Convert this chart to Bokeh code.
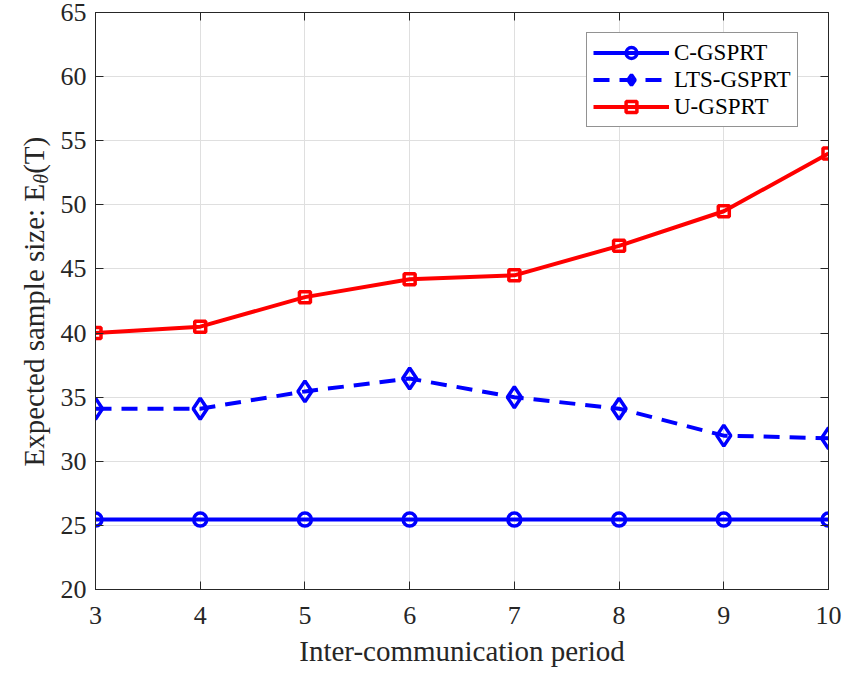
import math
from bokeh.plotting import figure
from bokeh.layouts import row
from bokeh.models import Range1d, FixedTicker, LinearAxis, Legend, LegendItem
from bokeh.core.properties import value
from bokeh.embed import file_html
from bokeh.resources import INLINE

# Inter-communication period
periods = [3, 4, 5, 6, 7, 8, 9, 10]
# Expected sample size for each test
c_gsprt = [25.45, 25.45, 25.45, 25.45, 25.45, 25.45, 25.45, 25.45]
lts_gsprt = [34.1, 34.1, 35.45, 36.45, 35.0, 34.1, 32.0, 31.8]
u_gsprt = [40.0, 40.5, 42.8, 44.2, 44.5, 46.8, 49.5, 54.0]

x_ticks = [3, 4, 5, 6, 7, 8, 9, 10]
y_ticks = [20, 25, 30, 35, 40, 45, 50, 55, 60, 65]

FONT = "Liberation Serif"
AX = "#262626"
BLUE = "#0000ff"
RED = "#ff0000"

H = 673
BT, BB = 12, 84       # top / bottom borders around the plotting frame
TITLE_W = 54          # strip holding the rotated y-axis title
MAIN_W = 843 - TITLE_W

# ---- main plot -------------------------------------------------------------
p = figure(width=MAIN_W, height=H, x_range=Range1d(3, 10), y_range=Range1d(20, 65),
           output_backend="svg", toolbar_location=None,
           min_border_left=95 - TITLE_W, min_border_right=15,
           min_border_top=BT, min_border_bottom=BB)
p.background_fill_color = "white"
p.border_fill_color = "white"
p.outline_line_color = AX
p.outline_line_width = 1


def style_axis(ax, labels=True):
    ax.major_tick_in = 8
    ax.major_tick_out = 0
    ax.minor_tick_line_color = None
    ax.axis_line_color = AX
    ax.axis_line_width = 1
    ax.major_tick_line_color = AX
    ax.major_tick_line_width = 1
    ax.major_label_text_font = FONT
    ax.major_label_text_color = AX
    if labels:
        ax.major_label_text_font_size = "26px"
    else:
        ax.major_label_text_font_size = "0px"
        ax.major_label_standoff = 0


p.xaxis.ticker = FixedTicker(ticks=x_ticks)
p.yaxis.ticker = FixedTicker(ticks=y_ticks)
for ax in p.xaxis + p.yaxis:
    style_axis(ax)
p.xaxis.major_label_standoff = 17
p.yaxis.major_label_standoff = 9

p.xaxis.axis_label = "Inter-communication period"
p.xaxis.axis_label_text_font = FONT
p.xaxis.axis_label_text_font_size = "29px"
p.xaxis.axis_label_text_font_style = "normal"
p.xaxis.axis_label_text_color = AX
p.xaxis.axis_label_standoff = 8

top = LinearAxis(ticker=FixedTicker(ticks=x_ticks))
right = LinearAxis(ticker=FixedTicker(ticks=y_ticks))
style_axis(top, labels=False)
style_axis(right, labels=False)
p.add_layout(top, "above")
p.add_layout(right, "right")

p.xgrid.ticker = FixedTicker(ticks=x_ticks)
p.ygrid.ticker = FixedTicker(ticks=y_ticks)
p.grid.grid_line_color = "#dfdfdf"
p.grid.grid_line_width = 1

LW = 4

l1 = p.line(periods, c_gsprt, line_color=BLUE, line_width=LW)
m1 = p.scatter(periods, c_gsprt, marker="circle", size=13, line_color=BLUE,
               line_width=3.5, fill_color=None)

l2 = p.line(periods, lts_gsprt, line_color=BLUE, line_width=LW, line_dash="16 10")
m2 = p.scatter(periods, lts_gsprt, marker="diamond", size=21, line_color=BLUE,
               line_width=3.5, fill_color=None)

l3 = p.line(periods, u_gsprt, line_color=RED, line_width=LW)
m3 = p.scatter(periods, u_gsprt, marker="square", size=11, line_color=RED,
               line_width=3.5, fill_color=None)

legend = Legend(items=[
    LegendItem(label="C-GSPRT", renderers=[l1, m1]),
    LegendItem(label="LTS-GSPRT", renderers=[l2, m2]),
    LegendItem(label="U-GSPRT", renderers=[l3, m3]),
], location=(491, 462))
legend.border_line_color = AX
legend.border_line_width = 1
legend.background_fill_color = "white"
legend.background_fill_alpha = 1
legend.label_text_font = FONT
legend.label_text_font_size = "23px"
legend.label_text_color = "black"
legend.glyph_width = 76
legend.glyph_height = 27
legend.label_height = 26
legend.label_standoff = 5
legend.spacing = 0
legend.padding = 6
legend.margin = 0
p.add_layout(legend, "center")

# ---- y-axis title strip: "Expected sample size: E_θ(T)" -------------------
# The row aligns this strip's frame with the main frame (same top/bottom
# borders), so the y range is chosen to make one unit equal one pixel,
# measured up from the bottom of the whole canvas.
t = figure(width=TITLE_W, height=H, x_range=Range1d(0, TITLE_W),
           y_range=Range1d(BB, H - BT),
           output_backend="svg", toolbar_location=None, min_border=0,
           x_axis_type=None, y_axis_type=None)
t.outline_line_color = None
t.grid.visible = False
t.background_fill_color = "white"
t.border_fill_color = "white"

ys = 29
main_w = 9.748 * ys      # advance of "Expected sample size: E" in Times metrics
sub_w = 0.5 * 20         # advance of the italic subscript
start = H - 466          # where the title begins, measured up from the bottom
base_x = 33              # baseline position across the strip
common = dict(angle=math.pi / 2, text_font=value(FONT), text_color=AX,
              text_align="left", text_baseline="alphabetic")
t.text(x=[base_x], y=[start], text=["Expected sample size: E"],
       text_font_size=value(f"{ys}px"), **common)
t.text(x=[base_x + 7], y=[start + main_w], text=["θ"], text_font_size=value("20px"),
       text_font_style="italic", **common)
t.text(x=[base_x], y=[start + main_w + sub_w], text=["(T)"],
       text_font_size=value(f"{ys}px"), **common)

layout = row(t, p, spacing=0)
open("out.html", "w").write(file_html(layout, INLINE))
